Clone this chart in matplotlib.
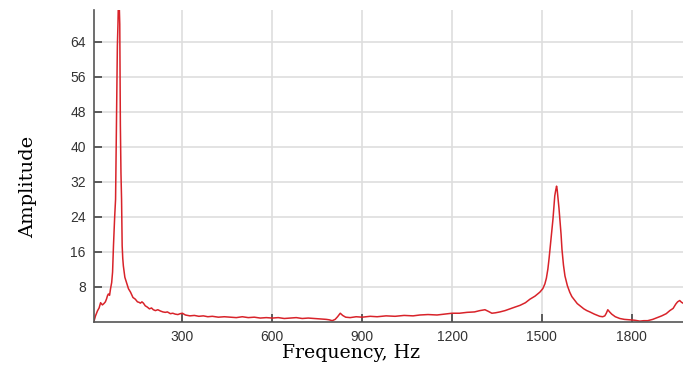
import numpy as np
import matplotlib
matplotlib.use("Agg")
import matplotlib.pyplot as plt

# spectrum: frequency (Hz) and amplitude
freq = [5, 10, 17, 22, 27, 33, 38, 43, 47, 50, 53, 57, 60, 64, 67, 70, 74, 77,
        80, 83, 85, 87, 89, 91, 93, 95, 97, 99, 101, 103, 108, 113, 120, 127,
        135, 143, 150, 155, 160, 165, 170, 176, 183, 190, 197, 203, 210, 218,
        227, 235, 243, 250, 260, 268, 276, 285, 293, 300, 310, 325, 340, 355,
        370, 385, 400, 420, 440, 460, 480, 500, 520, 540, 560, 580, 600, 620,
        640, 660, 680, 700, 720, 740, 760, 780, 790, 800, 810, 818, 827, 835,
        845, 860, 880, 900, 927, 950, 980, 1010, 1040, 1070, 1093, 1120, 1150,
        1175, 1200, 1225, 1250, 1275, 1293, 1310, 1322, 1333, 1345, 1360, 1377,
        1393, 1410, 1427, 1445, 1460, 1477, 1493, 1503, 1510, 1515, 1520, 1524,
        1527, 1532, 1537, 1543, 1546, 1549, 1551, 1553, 1557, 1560, 1564, 1567,
        1572, 1577, 1585, 1593, 1600, 1610, 1618, 1627, 1640, 1650, 1660, 1675,
        1693, 1703, 1710, 1715, 1720, 1726, 1733, 1745, 1760, 1775, 1793, 1810,
        1827, 1840, 1853, 1870, 1885, 1900, 1915, 1927, 1938, 1947, 1953, 1960,
        1966, 1971]
amp = [0.2, 1.4, 2.6, 3.2, 4.4, 3.9, 4.2, 4.6, 5.3, 6.0, 6.4, 6.1, 7.5, 9.0,
       11.4, 17.4, 24.0, 28.0, 45.0, 63.0, 68.0, 75.0, 73.0, 68.0, 45.0, 34.0,
       28.0, 17.4, 14.5, 12.8, 10.2, 9.1, 7.6, 6.8, 5.6, 5.2, 4.6, 4.5, 4.3,
       4.6, 4.3, 3.7, 3.4, 3.0, 3.2, 2.8, 2.6, 2.8, 2.5, 2.3, 2.2, 2.3, 1.9,
       2.0, 1.8, 1.7, 1.9, 2.0, 1.6, 1.4, 1.5, 1.3, 1.4, 1.2, 1.3, 1.1, 1.2,
       1.1, 1.0, 1.2, 1.0, 1.1, 0.9, 1.0, 0.9, 1.0, 0.8, 0.9, 1.0, 0.8, 0.9,
       0.8, 0.7, 0.6, 0.5, 0.3, 0.6, 1.2, 2.0, 1.5, 1.1, 1.0, 1.2, 1.1, 1.3,
       1.2, 1.4, 1.3, 1.5, 1.4, 1.6, 1.7, 1.6, 1.8, 2.0, 2.0, 2.2, 2.3, 2.6,
       2.8, 2.4, 2.0, 2.1, 2.3, 2.6, 3.0, 3.4, 3.8, 4.4, 5.2, 5.9, 6.8, 7.6,
       8.7, 10.0, 12.1, 14.5, 16.6, 20.0, 23.5, 28.8, 30.0, 31.0, 30.2, 28.8,
       26.0, 23.5, 20.0, 16.6, 13.0, 10.5, 8.3, 6.8, 5.8, 4.9, 4.2, 3.7, 3.0,
       2.6, 2.3, 1.8, 1.3, 1.2, 1.4, 2.0, 2.8, 2.3, 1.8, 1.2, 0.8, 0.6, 0.5,
       0.4, 0.2, 0.3, 0.3, 0.6, 1.0, 1.4, 1.9, 2.6, 3.1, 4.1, 4.6, 4.9, 4.5,
       4.3]

xticks = [300, 600, 900, 1200, 1500, 1800]
yticks = [8, 16, 24, 32, 40, 48, 56, 64]

fig = plt.figure(figsize=(6.83, 3.67), dpi=100)
ax = fig.add_axes([94 / 683, 45 / 367, 589 / 683, 312 / 367])

ax.plot(freq, amp, color="#d8232a", lw=1.1)

ax.set_xlim(5, 1971)
ax.set_ylim(0, 71.2)
ax.set_xticks(xticks)
ax.set_yticks(yticks)
ax.grid(True, color="#dedede", lw=1.2)
ax.set_axisbelow(True)

for s in ["top", "right"]:
    ax.spines[s].set_visible(False)
for s in ["left", "bottom"]:
    ax.spines[s].set_color("#555555")
    ax.spines[s].set_linewidth(1.2)

ax.tick_params(direction="in", length=6, width=1.2, color="#444444",
               labelcolor="#333333", labelsize=10, pad=6)
for lab in ax.get_xticklabels() + ax.get_yticklabels():
    lab.set_family("Liberation Sans")

fig.text(351 / 683, 14 / 367, "Frequency, Hz", ha="center", va="center",
         family="DejaVu Serif", fontsize=13.6)
fig.text(28 / 683, 180 / 367, "Amplitude", ha="center", va="center",
         rotation=90, family="DejaVu Serif", fontsize=14)

fig.savefig("out.png", dpi=100)
